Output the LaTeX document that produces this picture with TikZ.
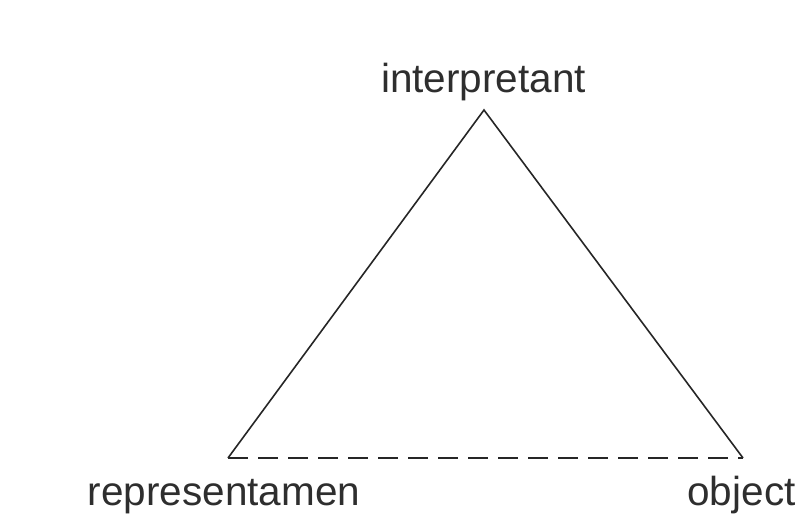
\documentclass[tikz,border=0pt]{standalone}
\usepackage{fontspec}
\setmainfont{Liberation Sans}
\begin{document}
\begin{tikzpicture}[x=1pt,y=-1pt,
  lbl/.style={font=\fontsize{40.5}{48}\selectfont, text=black!82, inner sep=0pt, anchor=base},
  edge/.style={line width=1.6pt, draw=black!85},
  dashedge/.style={edge, dash pattern=on 20pt off 10pt}]
\useasboundingbox (0,0) rectangle (798,518);
\coordinate (I) at (484,110);
\coordinate (R) at (228,458);
\coordinate (O) at (743,458);
\node[lbl] (interp) at (483.5,93) {interpretant};
\node[lbl] (repr) at (224,505) {representamen};
\node[lbl] (obj) at (741.5,505) {object};
\draw[edge] (R) -- (I) -- (O);
\draw[dashedge] (R) -- (O);
\end{tikzpicture}
\end{document}
